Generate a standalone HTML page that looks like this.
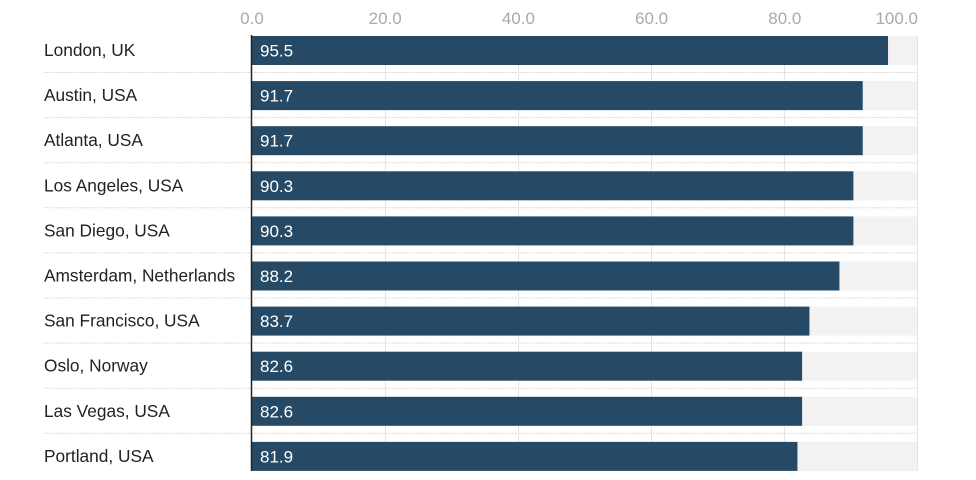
<!DOCTYPE html>
<html><head><meta charset="utf-8"><style>html,body{margin:0;padding:0;background:#fff}svg{display:block}</style></head>
<body>
<svg width="976" height="480" viewBox="0 0 976 480" xmlns="http://www.w3.org/2000/svg" font-family="Liberation Sans, sans-serif">
<g font-size="17" fill="#a9a9a9">
<text x="252" y="24" text-anchor="middle">0.0</text>
<text x="385.2" y="24" text-anchor="middle">20.0</text>
<text x="518.4" y="24" text-anchor="middle">40.0</text>
<text x="651.6" y="24" text-anchor="middle">60.0</text>
<text x="784.8" y="24" text-anchor="middle">80.0</text>
<text x="918" y="24" text-anchor="end">100.0</text>
</g>
<g id="rows"></g>
<g stroke="#e4e4e4" stroke-width="1">
<line x1="385.5" y1="35" x2="385.5" y2="471"/><line x1="518.5" y1="35" x2="518.5" y2="471"/>
<line x1="651.5" y1="35" x2="651.5" y2="471"/><line x1="784.5" y1="35" x2="784.5" y2="471"/>
<line x1="917.5" y1="35" x2="917.5" y2="471"/>
</g>
<g id="bars"></g>
<line x1="251.5" y1="35" x2="251.5" y2="471" stroke="#222" stroke-width="1.5"/>
</svg>
<script>
var d=[["London, UK",95.5],["Austin, USA",91.7],["Atlanta, USA",91.7],["Los Angeles, USA",90.3],["San Diego, USA",90.3],["Amsterdam, Netherlands",88.2],["San Francisco, USA",83.7],["Oslo, Norway",82.6],["Las Vegas, USA",82.6],["Portland, USA",81.9]];
var ns="http://www.w3.org/2000/svg",rows=document.getElementById("rows"),bars=document.getElementById("bars");
function el(p,t,a,txt){var e=document.createElementNS(ns,t);for(var k in a)e.setAttribute(k,a[k]);if(txt)e.textContent=txt;p.appendChild(e);return e;}
d.forEach(function(r,i){var y=36+i*45.1;
el(rows,"rect",{x:252,y:y,width:666,height:29,fill:"#f2f2f2"});
if(i<9)el(rows,"line",{x1:44,y1:y+36.5,x2:918,y2:y+36.5,stroke:"#cfcfcf","stroke-dasharray":"1.5,1.5"});
el(rows,"text",{x:44,y:y+20,"font-size":17.3,fill:"#222"},r[0]);
el(bars,"rect",{x:252,y:y,width:r[1]*6.66,height:29,fill:"#264a66"});
el(bars,"text",{x:260,y:y+20.5,"font-size":17,fill:"#fff"},r[1].toFixed(1));
});
</script>
</body></html>
